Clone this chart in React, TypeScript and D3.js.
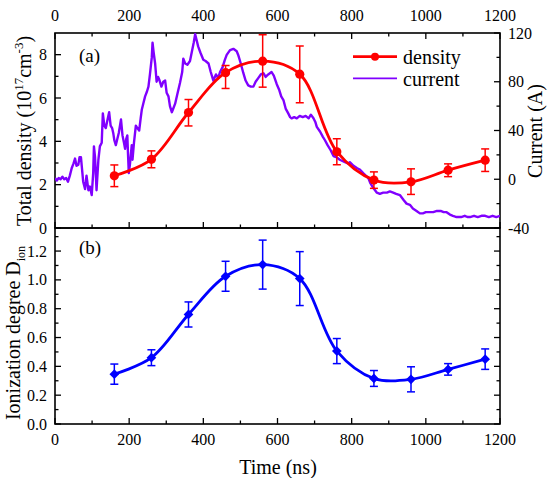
import React from 'react';
import * as d3 from 'd3';

const TIME_TICKS = [0, 200, 400, 600, 800, 1000, 1200];
const TIME_MINOR = [100, 300, 500, 700, 900, 1100];
const DENSITY_TICKS = [0, 2, 4, 6, 8];
const DENSITY_MINOR = [1, 3, 5, 7];
const CURRENT_TICKS = [-40, 0, 40, 80, 120];
const CURRENT_MINOR = [-20, 20, 60, 100];
const ION_TICKS = [0, 0.2, 0.4, 0.6, 0.8, 1.0, 1.2];
const ION_MINOR = [0.1, 0.3, 0.5, 0.7, 0.9, 1.1, 1.3];

const sampleTime = [160, 260, 360, 460, 560, 660, 760, 860, 960, 1060, 1160];
const density = [2.41, 3.17, 5.33, 7.17, 7.7, 7.1, 3.52, 2.21, 2.13, 2.67, 3.13];
const densityErrHi = [0.5, 0.39, 0.6, 0.33, 1.22, 1.3, 0.6, 0.38, 0.6, 0.29, 0.52];
const densityErrLo = [0.5, 0.39, 0.62, 0.73, 1.2, 1.32, 0.6, 0.38, 0.58, 0.3, 0.52];

const ionization = [0.346, 0.46, 0.76, 1.025, 1.106, 1.009, 0.506, 0.316, 0.31, 0.379, 0.45];
const ionErr = [0.07, 0.055, 0.087, 0.104, 0.17, 0.187, 0.087, 0.055, 0.087, 0.04, 0.071];

const currentTime = [
  0, 5, 10, 15, 20, 25, 30, 35, 40, 45, 50, 54, 58, 63, 66, 70, 76, 81, 85, 90, 94, 99, 103, 105, 108, 112,
  117, 121, 126, 129, 133, 137, 141, 146, 150, 154, 157, 160, 164, 168, 172, 178, 182, 186, 189, 192, 195,
  197, 199, 202, 207, 209, 213, 218, 222, 227, 231, 234, 238, 243, 248, 252, 256, 261, 263, 266, 270, 274,
  278, 282, 287, 292, 297, 301, 306, 310, 315, 319, 324, 330, 337, 343, 346, 351, 357, 364, 370, 374, 378,
  382, 386, 392, 400, 406, 414, 420, 427, 434, 440, 445, 452, 458, 463, 472, 481, 490, 494, 500, 508, 514,
  521, 528, 535, 541, 548, 555, 562, 568, 575, 584, 590, 598, 605, 610, 616, 622, 629, 634, 638, 645, 652,
  660, 668, 676, 684, 690, 697, 702, 706, 715, 722, 728, 735, 743, 751, 760, 768, 775, 782, 790, 795, 805,
  815, 822, 831, 838, 845, 850, 858, 868, 876, 885, 895, 903, 912, 920, 930, 940, 948, 957, 965, 975, 984,
  992, 1000, 1011, 1020, 1030, 1040, 1048, 1056, 1065, 1073, 1083, 1095, 1105, 1112, 1119, 1130, 1140,
  1150, 1160, 1170, 1180, 1190, 1200,
];
const currentAmps = [
  1, -1, 1, 0, 2, 0, 1, -2, 3, 9, 13, 17, 11, 12, 18, 18, -2, -8, 3, -9, -6, -13, 5, 27, 18, -9,
  16, 27, 30, 54, 44, 42, 48, 55, 44, 42, 38, 32, 28, 33, 38, 49, 36, 30, 25, 33, 36,
  20, 5, 12, 28, 16, 30, 44, 42, 40, 50, 57, 62, 68, 72, 76, 86, 100, 112, 104, 95, 80,
  84, 81, 76, 80, 81, 71, 68, 60, 55, 58, 62, 70, 79, 88, 99, 95, 94, 97, 106, 112, 119,
  114, 109, 104, 98, 97, 95, 88, 81, 86, 83, 88, 92, 98, 102, 106, 107, 105, 102, 96, 87, 81,
  77, 76, 76, 80, 83, 86, 87, 84, 86, 88, 85, 78, 73, 68, 65, 58, 54, 51, 50, 51, 50,
  52, 51, 52, 50, 53, 50, 47, 43, 39, 35, 32, 28, 24, 19, 18, 16, 15, 14, 13, 14, 11,
  9, 8, 5, 3, 1, -3, -7, -11, -12, -11, -11, -10, -11, -12, -13, -17, -20, -21, -24, -26, -28,
  -28, -27, -27, -27, -26, -26, -27, -27, -29, -30, -31, -31, -30, -31, -31, -30, -31,
  -30, -30, -31, -30, -31, -30,
];

const L = 55;
const R = 500;
const TOP_A = 33;
const BOT_A = 228;
const BOT_B = 424;

const FONT = '"Liberation Serif", "Times New Roman", Times, serif';
const RED = '#ff0000';
const BLUE = '#0000ff';
const PURPLE = '#8000ff';

export default function App() {
  const x = d3.scaleLinear().domain([0, 1200]).range([L, R]);
  const yDen = d3.scaleLinear().domain([0, 9]).range([BOT_A, TOP_A]);
  const yCur = d3.scaleLinear().domain([-40, 120]).range([BOT_A, TOP_A]);
  const yIon = d3.scaleLinear().domain([0, 1.36]).range([BOT_B, BOT_A]);

  const densityPts = sampleTime.map((t, i) => [t, density[i]] as [number, number]);
  const ionPts = sampleTime.map((t, i) => [t, ionization[i]] as [number, number]);
  const currentPts = currentTime.map((t, i) => [t, currentAmps[i]] as [number, number]);

  const denLine = d3
    .line<[number, number]>()
    .x((d) => x(d[0]))
    .y((d) => yDen(d[1]))
    .curve(d3.curveCatmullRom.alpha(0.5));
  const ionLine = d3
    .line<[number, number]>()
    .x((d) => x(d[0]))
    .y((d) => yIon(d[1]))
    .curve(d3.curveCatmullRom.alpha(0.5));
  const curLine = d3
    .line<[number, number]>()
    .x((d) => x(d[0]))
    .y((d) => yCur(d[1]));

  const MAJ = 6;
  const MIN = 3.5;
  const tickStroke = { stroke: '#000', strokeWidth: 1.3 };
  const diamond = d3.symbol().type(d3.symbolDiamond2).size(60)();

  return (
    <svg
      width={548}
      height={478}
      style={{ position: 'absolute', left: 0, top: 0, background: '#fff', fontFamily: FONT }}
    >
      <defs>
        <clipPath id="clipA">
          <rect x={L} y={TOP_A} width={R - L} height={BOT_A - TOP_A} />
        </clipPath>
      </defs>
      <rect x={0} y={0} width={548} height={478} fill="#fff" />

      {/* ---------- Panel (a) ticks ---------- */}
      {TIME_TICKS.map((t) => (
        <g key={'ta' + t}>
          <line x1={x(t)} x2={x(t)} y1={TOP_A} y2={TOP_A + MAJ} {...tickStroke} />
          <line x1={x(t)} x2={x(t)} y1={BOT_A} y2={BOT_A - MAJ} {...tickStroke} />
          <line x1={x(t)} x2={x(t)} y1={BOT_B} y2={BOT_B - MAJ} {...tickStroke} />
          <text x={x(t)} y={21} fontSize={16} textAnchor="middle">
            {t}
          </text>
          <text x={x(t)} y={445} fontSize={16} textAnchor="middle">
            {t}
          </text>
        </g>
      ))}
      {TIME_MINOR.map((t) => (
        <g key={'tm' + t}>
          <line x1={x(t)} x2={x(t)} y1={TOP_A} y2={TOP_A + MIN} {...tickStroke} />
          <line x1={x(t)} x2={x(t)} y1={BOT_A} y2={BOT_A - MIN} {...tickStroke} />
          <line x1={x(t)} x2={x(t)} y1={BOT_B} y2={BOT_B - MIN} {...tickStroke} />
        </g>
      ))}
      {DENSITY_TICKS.map((v) => (
        <g key={'d' + v}>
          <line x1={L} x2={L + MAJ} y1={yDen(v)} y2={yDen(v)} {...tickStroke} />
          <text x={47} y={yDen(v)} dy="0.35em" fontSize={16} textAnchor="end">
            {v}
          </text>
        </g>
      ))}
      {DENSITY_MINOR.map((v) => (
        <line key={'dm' + v} x1={L} x2={L + MIN} y1={yDen(v)} y2={yDen(v)} {...tickStroke} />
      ))}
      {CURRENT_TICKS.map((v) => (
        <g key={'c' + v}>
          <line x1={R} x2={R - MAJ} y1={yCur(v)} y2={yCur(v)} {...tickStroke} />
          <text x={508} y={yCur(v)} dy="0.35em" fontSize={16} textAnchor="start">
            {v}
          </text>
        </g>
      ))}
      {CURRENT_MINOR.map((v) => (
        <line key={'cm' + v} x1={R} x2={R - MIN} y1={yCur(v)} y2={yCur(v)} {...tickStroke} />
      ))}

      {/* ---------- Panel (b) ticks ---------- */}
      {ION_TICKS.map((v) => (
        <g key={'i' + v}>
          <line x1={L} x2={L + MAJ} y1={yIon(v)} y2={yIon(v)} {...tickStroke} />
          <line x1={R} x2={R - MAJ} y1={yIon(v)} y2={yIon(v)} {...tickStroke} />
          <text x={47} y={yIon(v)} dy="0.35em" fontSize={16} textAnchor="end">
            {v.toFixed(1)}
          </text>
        </g>
      ))}
      {ION_MINOR.map((v) => (
        <g key={'im' + v}>
          <line x1={L} x2={L + MIN} y1={yIon(v)} y2={yIon(v)} {...tickStroke} />
          <line x1={R} x2={R - MIN} y1={yIon(v)} y2={yIon(v)} {...tickStroke} />
        </g>
      ))}

      {/* ---------- Frames ---------- */}
      <rect x={L} y={TOP_A} width={R - L} height={BOT_A - TOP_A} fill="none" stroke="#000" strokeWidth={1.6} />
      <rect x={L} y={BOT_A} width={R - L} height={BOT_B - BOT_A} fill="none" stroke="#000" strokeWidth={1.6} />

      {/* ---------- Panel (a) data ---------- */}
      <g clipPath="url(#clipA)">
        <path d={curLine(currentPts) || ''} fill="none" stroke={PURPLE} strokeWidth={2.4} strokeLinejoin="round" />
      </g>
      <path d={denLine(densityPts) || ''} fill="none" stroke={RED} strokeWidth={2.8} />
      {sampleTime.map((t, i) => (
        <g key={'de' + t} stroke={RED} strokeWidth={1.5}>
          <line x1={x(t)} x2={x(t)} y1={yDen(density[i] + densityErrHi[i])} y2={yDen(density[i] - densityErrLo[i])} />
          <line x1={x(t) - 4} x2={x(t) + 4} y1={yDen(density[i] + densityErrHi[i])} y2={yDen(density[i] + densityErrHi[i])} />
          <line x1={x(t) - 4} x2={x(t) + 4} y1={yDen(density[i] - densityErrLo[i])} y2={yDen(density[i] - densityErrLo[i])} />
        </g>
      ))}
      {densityPts.map((d) => (
        <circle key={'dc' + d[0]} cx={x(d[0])} cy={yDen(d[1])} r={4.6} fill={RED} />
      ))}

      {/* ---------- Panel (b) data ---------- */}
      <path d={ionLine(ionPts) || ''} fill="none" stroke={BLUE} strokeWidth={2.8} />
      {sampleTime.map((t, i) => (
        <g key={'ie' + t} stroke={BLUE} strokeWidth={1.5}>
          <line x1={x(t)} x2={x(t)} y1={yIon(ionization[i] + ionErr[i])} y2={yIon(ionization[i] - ionErr[i])} />
          <line x1={x(t) - 4} x2={x(t) + 4} y1={yIon(ionization[i] + ionErr[i])} y2={yIon(ionization[i] + ionErr[i])} />
          <line x1={x(t) - 4} x2={x(t) + 4} y1={yIon(ionization[i] - ionErr[i])} y2={yIon(ionization[i] - ionErr[i])} />
        </g>
      ))}
      {ionPts.map((d) => (
        <path key={'id' + d[0]} d={diamond || ''} transform={`translate(${x(d[0])},${yIon(d[1])})`} fill={BLUE} />
      ))}

      {/* ---------- Legend ---------- */}
      <line x1={353} x2={397} y1={56.7} y2={56.7} stroke={RED} strokeWidth={2.8} />
      <circle cx={375} cy={56.7} r={4} fill={RED} />
      <text x={403} y={64} fontSize={20}>
        density
      </text>
      <line x1={353} x2={397} y1={78.3} y2={78.3} stroke={PURPLE} strokeWidth={1.8} />
      <text x={403} y={85.5} fontSize={20}>
        current
      </text>

      {/* ---------- Panel labels ---------- */}
      <text x={79} y={62} fontSize={19}>
        (a)
      </text>
      <text x={79} y={254} fontSize={19}>
        (b)
      </text>

      {/* ---------- Axis titles ---------- */}
      <text transform="translate(31,131) rotate(-90)" fontSize={20} textAnchor="middle">
        Total density (10
        <tspan fontSize={13} dy={-8}>
          17
        </tspan>
        <tspan dy={8}>cm</tspan>
        <tspan fontSize={13} dy={-8}>
          -3
        </tspan>
        <tspan dy={8}>)</tspan>
      </text>
      <text transform="translate(20,333) rotate(-90)" fontSize={20} textAnchor="middle">
        Ionization degree D
        <tspan fontSize={12} dy={5}>
          ion
        </tspan>
      </text>
      <text transform="translate(542,131) rotate(-90)" fontSize={20} textAnchor="middle">
        Current (A)
      </text>
      <text x={278} y={474} fontSize={20} textAnchor="middle">
        Time (ns)
      </text>
    </svg>
  );
}
